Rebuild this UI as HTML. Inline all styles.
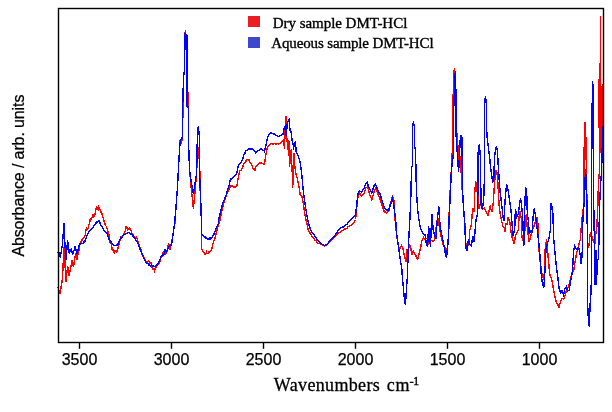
<!DOCTYPE html>
<html><head><meta charset="utf-8"><style>
html,body{margin:0;padding:0;background:#fff;}
body{width:612px;height:412px;overflow:hidden;}
svg{display:block;}
</style></head><body>
<svg width="612" height="412" viewBox="0 0 612 412">
<rect width="612" height="412" fill="#fff"/>
<g fill="none" stroke-linejoin="miter" stroke-linecap="butt" shape-rendering="crispEdges">
<polyline stroke="#ff0000" stroke-width="1.4" points="58,287 59,293 59.5,291.67 60,294 61,288 62.5,277.8 64,247 64.7,257 65.9,282 67.6,266 69,276 70.5,269 72,260 73.5,267 75.6,253 76.3,257.74 77,259 79.3,248.7 80,243.7 80.74,243.84 81.48,240.12 82.22,240.14 82.96,238.73 83.7,237.8 84.42,236.8 85.14,235.72 85.86,230.49 86.58,228.4 87.3,229 88.03,228.76 88.77,224.83 89.5,224.56 90.23,218.84 90.97,219.14 91.7,217.5 92.42,217.59 93.14,214.1 93.86,216.67 94.58,215.43 95.3,212.4 96.03,208.78 96.75,207.48 97.47,208.78 98.2,207.3 98.8,210.4 99.4,208.51 100,210 100.65,210.6 101.3,213.4 101.95,213.51 102.6,217.5 103.32,218.25 104.05,221.22 104.78,223.48 105.5,225.5 106.2,226.2 106.9,228.09 107.6,229.93 108.3,232.92 109,235 110,242.8 110.7,243.53 111.4,244 112.1,249.34 112.8,249.5 113.33,250.92 113.87,252.47 114.4,253 115.1,250.49 115.8,250.8 116.53,252.08 117.27,250.55 118,248 120.2,239 120.93,236.29 121.67,236.25 122.4,236 123.13,235.6 123.87,234.15 124.6,231.8 125.3,231.21 126,226.7 126.73,227.12 127.47,229.72 128.2,229 128.93,229.77 129.67,228.12 130.4,229 131.13,230.83 131.87,233.59 132.6,233.3 133.3,236.32 134,236.26 134.7,237.7 135.45,238.83 136.2,237.06 136.95,238.72 137.7,240.6 138.4,244.34 139.1,245.01 139.8,247.8 140.55,248.13 141.3,251.62 142.05,254.11 142.8,255 143.53,257.46 144.25,257.79 144.97,259.75 145.7,261.7 146.42,261.74 147.14,262.95 147.86,261.79 148.58,261.22 149.3,261.7 150.03,263.1 150.75,262.48 151.47,264 152.2,267.5 152.95,269.17 153.7,269 154.4,270.84 155.1,268.75 155.8,268 156.55,266.5 157.3,264.47 158.05,264.94 158.8,263.9 159.53,263.64 160.27,260.25 161,256.6 161.72,255.68 162.45,256.02 163.18,252.09 163.9,252.2 164.6,251.53 165.3,252.77 166,250 166.5,254 168.6,243 170,249.8 172.3,239 173.7,230 174.9,223 175.9,208.5 177.4,188.8 178.8,162 180,140 180.75,141.69 181.5,143 182.5,136.7 183.5,78 184.4,70 184.4,37.5 185.4,30.2 186.2,45 186.8,34.6 187.1,70 188.3,107 188.3,133.8 189,156 189.7,171 190.9,185 193.4,208.5 195.6,185 196.3,175 197.4,160 198.4,147 199.3,160 200,175 200.4,204 201.4,217 201.4,249 202.13,250.13 202.87,250.89 203.6,252.7 204.33,253.19 205.07,254.58 205.8,253.8 206.53,252.11 207.25,253.61 207.97,253.25 208.7,252 209.42,252.42 210.15,251.5 210.88,251.12 211.6,249.8 213,243.3 213.73,241.41 214.47,239.59 215.2,237.5 217.4,228.7 217.97,226.62 218.53,223.79 219.1,223 219.7,221.83 220.3,218.8 222.3,209 222.93,206.64 223.57,203.18 224.2,201.4 224.82,199.71 225.45,197.96 226.07,195.94 226.7,194.6 227.3,192.74 227.9,191.75 228.5,190.48 229.1,188.7 229.8,187.53 230.5,185.8 231.25,185.95 232,186.3 232.67,185.62 233.33,186.62 234,187.8 234.63,186.66 235.27,187.34 235.9,186.8 236.6,186.25 237.3,183.9 237.5,181 239.7,170.8 240.4,170.81 241.1,170.08 241.8,168.6 242.53,167.69 243.27,164.59 244,163.5 244.73,163.39 245.47,162 246.2,160.6 246.93,159.56 247.67,159.39 248.4,160.6 249.13,160.12 249.87,162.71 250.6,162.8 251.33,163.84 252.07,165.16 252.8,167.8 253.53,168.85 254.27,168.88 255,170 255.7,167.49 256.4,166.28 257.1,165.7 257.83,165.04 258.55,163.42 259.27,162.96 260,162.8 260.73,163.56 261.47,163.15 262.2,163.5 262.93,163.29 263.67,163.9 264.4,164.2 265.9,154.7 267.3,147.5 268.03,146.15 268.77,145.48 269.5,144.6 270.23,144.34 270.95,143.95 271.67,143.69 272.4,143.8 273.12,144.12 273.85,143.81 274.57,143.57 275.3,143.8 275.96,143.98 276.62,144.25 277.28,143.72 277.94,143.81 278.6,144.3 279.33,143.47 280.05,143.38 280.77,142.38 281.5,142.1 282.23,141.56 282.97,140.84 283.7,140 284.5,148.7 285.5,117.4 285.9,116 286.4,125.4 286.6,135.6 288.1,150 288.8,140 289.5,166.5 290.3,160.3 291.3,148.7 291.4,171.6 292.5,164.7 292.7,188.4 293.9,153 294.6,164.4 296,174.6 296.75,176.84 297.5,179 298.9,186.2 300.1,194.2 300.67,194.48 301.23,195.58 301.8,195.7 303.3,203.7 304.5,212.4 305.9,219.7 306.6,222.5 308,229 308.73,230.7 309.47,231.95 310.2,233.4 310.93,234.28 311.65,235.72 312.38,236.62 313.1,237.8 313.82,238.72 314.54,239.38 315.26,240.48 315.98,240.89 316.7,242.1 317.44,242.38 318.18,243.35 318.92,243.72 319.66,243.71 320.4,244.3 321.12,244.87 321.83,244.71 322.55,245.5 323.27,245.63 323.98,245.65 324.7,246 325.45,245.38 326.2,244.76 326.95,245.03 327.7,244.3 328.42,243.08 329.13,242.86 329.85,242.12 330.57,240.96 331.28,239.79 332,239.2 332.74,238.77 333.48,238.14 334.22,237.2 334.96,236.33 335.7,235.6 336.42,234.92 337.14,234.32 337.86,233.62 338.58,233.42 339.3,232.7 340.02,232.1 340.75,231.36 341.48,230.73 342.2,230.5 342.93,230.27 343.67,229.6 344.4,229.4 345.13,228.89 345.87,228.96 346.6,228.3 347.32,228.06 348.04,226.79 348.76,226.38 349.48,225.92 350.2,225.5 350.88,225.49 351.55,224.93 352.22,224.17 352.9,223.9 353.55,222.57 354.2,221.84 354.85,220.87 355.5,219.5 356.6,209.3 358,196.2 358.75,195.1 359.5,193.3 360.2,194.14 360.9,195.54 361.6,196.2 362.33,195.62 363.07,194.72 363.8,194 364.53,192.22 365.27,189.45 366,187.5 366.75,187.28 367.5,186.7 368.23,189.03 368.97,191.77 369.7,194.7 370.4,196.73 371.1,197.87 371.8,199.8 372.53,197.34 373.27,194.55 374,191.8 374.75,190.27 375.5,188.2 376.23,189.79 376.97,191.47 377.7,193.3 378.4,194.83 379.1,196.99 379.8,198.4 380.53,200.65 381.27,203.1 382,204.9 382.73,207.41 383.47,209.01 384.2,211.5 384.93,212.01 385.67,212.12 386.4,212.9 387.13,212.06 387.87,211.63 388.6,211.5 390.8,202 391.37,200.46 391.93,198.56 392.5,196.5 393.1,198.06 393.7,199.1 394.4,205 395.4,223.9 396.6,234.6 398,244.7 398.75,246.77 399.5,249.1 400.2,247.99 400.9,246.93 401.6,245.5 402.35,247.2 403.1,249.1 404.6,256.4 405.3,259.01 406,261.5 407.2,249.1 408.2,261.5 409,244.7 409.7,244.88 410.4,245.5 411.8,255 412.55,252.82 413.3,251.3 414.03,252.35 414.77,254.08 415.5,255 416.23,256.48 416.97,258.21 417.7,259.3 418.4,256.37 419.1,253.5 419.85,250.42 420.6,247.7 422,240.4 422.75,239.18 423.5,237.5 424.25,238.51 425,239 425.7,238.34 426.4,238.6 427.1,238.2 427.85,240.42 428.6,243.3 429.33,242.03 430.07,241.67 430.8,240.4 431.53,240.5 432.27,241.13 433,241.8 433.7,240.99 434.4,239.34 435.1,238.2 436.6,222.9 437.3,220.14 438,218 440.2,231.6 441.7,238.9 442.33,241.07 442.97,243.56 443.6,246.2 444.33,247.33 445.07,247.75 445.8,249 446.6,253.5 448,241.8 449,225.8 449.4,200 450.2,190.4 451.4,169 452.4,150 452.4,125 453.4,87 454.3,68 455.3,100 455.8,120 458.2,150 458.2,166 460.4,156 461.8,184.6 463,200.6 464,213.7 465,225.3 465.5,241.8 466.13,243.86 466.77,245.17 467.4,247 467.97,245.18 468.53,242.93 469.1,240.4 469.8,230.2 470.55,227.44 471.3,225 472.8,207.8 473.5,209.8 474.2,212.2 474.9,189 476.1,181.6 477.1,191.8 477.6,190.38 478.1,189 479,209.3 479.75,206.08 480.5,203.5 481.07,205.55 481.63,207 482.2,209.3 482.93,208.41 483.67,208.69 484.4,207.8 485.13,209.34 485.87,211.28 486.6,212.9 487.3,213.96 488,215.1 490.2,206.4 490.95,209.15 491.7,212.2 493.1,205 494.6,181.6 495.7,172.2 496.4,170 497.5,176.5 498.2,189 499.1,204.9 500.1,213.7 501.6,221 502.3,223.55 503,226.8 503.75,227.83 504.5,228.2 505.2,231.6 505.9,223.9 506.65,224.53 507.4,224.4 508.1,218 508.85,219.48 509.6,220.2 511,231.6 512.5,239 513.07,240.36 513.63,242.11 514.2,244 515.4,236 516.1,234.64 516.8,233.1 517.55,232.03 518.3,230.2 519,218 520,210.8 521.2,218 521.9,237.5 522.65,239.68 523.4,241.8 524.8,231.6 526.3,213.7 527,225.3 527.8,231.6 529.2,241.8 529.95,239.05 530.7,236 531.4,233.23 532.1,230.2 532.83,228.37 533.57,226.97 534.3,225.3 535.03,222.71 535.77,220.23 536.5,218 537,217.67 537.5,218 538,225.3 539.4,256.4 540.9,266.6 542.4,276.6 543.1,277.92 543.8,279.6 544.6,268 545.2,249 546.7,239 547.4,249 548.6,262.2 549.7,273.7 550.4,276.05 551.1,277.59 551.8,279.6 553.3,288.3 554.7,295.6 555.45,298.62 556.2,301.4 556.95,302.96 557.7,304.3 558.4,306.1 559.1,307.2 559.85,304.21 560.6,301.4 561.3,299.8 562,298.5 562.6,298.6 563.2,298.82 563.8,299.2 564.43,297.31 565.07,295.18 565.7,292.7 566.33,291.08 566.97,289.63 567.6,288.3 568.17,286.87 568.73,285.43 569.3,283.9 570.05,281.08 570.8,278.1 571.2,276.2 571.6,274.7 572.2,272.3 572.95,271.17 573.7,270.8 574.6,264.5 576.7,252.8 578.9,244.1 579.55,241.85 580.2,240 581.2,228 582.4,215 583.8,204 583.8,180 584.3,140 584.7,121.7 585.3,125 585.8,136 586.7,188.8 587.5,224.7 587.7,248 588.3,246.66 588.9,246 590.4,232 591.1,234.24 591.8,236.4 592.55,238.26 593.3,240.8 594,242.56 594.7,245 595.5,236.4 596.9,226.2 597.4,215 598.1,200 598.3,185 599.3,173 599.3,156 599.1,94 599.1,80 600.2,72 600.3,15.8 600.4,86 599.6,152 600.4,90 601.1,153 601.8,86 602.5,153 603,90 603.2,84"/>
<polyline stroke="#0000ff" stroke-width="1.4" points="58,252 58.5,253.59 59,253 59.7,256.07 60.4,257 62.5,244 64,223 64.7,240 66,260 67.6,240 69.4,254 70.03,251.27 70.67,249.67 71.3,249 72,252.31 72.7,254 73.47,252.23 74.23,249.74 75,247 75.67,248.54 76.33,251.25 77,253 77.77,250.59 78.53,247.86 79.3,245 80.03,243.95 80.77,243.89 81.5,243.33 82.23,243.36 82.97,243.29 83.7,242 84.35,242.22 85,241 85.75,239.2 86.5,237.16 87.25,235 88,233.5 88.73,231.79 89.47,230.81 90.2,230.54 90.93,229.34 91.67,228.47 92.4,227.7 93.12,227.4 93.85,225.89 94.58,225.02 95.3,224 96.04,222.98 96.78,222.04 97.52,221.92 98.26,221.02 99,221 99.72,222.36 100.44,224.48 101.16,225.3 101.88,225.85 102.6,227.7 103.33,229.3 104.07,230.11 104.8,230.98 105.53,232.22 106.27,232.95 107,233.5 107.75,235.74 108.5,236.82 109.25,239.59 110,240.6 110.73,242.31 111.47,241.99 112.2,243.5 112.93,244.64 113.67,245.31 114.4,245.7 115.12,245.46 115.85,245.4 116.58,245.16 117.3,245 118.03,244.18 118.75,242 119.47,241.03 120.2,239 120.92,237.89 121.65,237.86 122.38,237.01 123.1,235.5 123.82,234.89 124.55,234.51 125.28,234.52 126,233.3 126.73,233.42 127.47,232.81 128.2,232.6 128.92,232.5 129.65,233.02 130.38,233.97 131.1,234 131.82,234.22 132.55,236.15 133.28,235.88 134,237 134.75,238.73 135.5,238.85 136.25,240.96 137,241.3 137.7,243.33 138.4,244.71 139.1,246.4 139.83,248.36 140.57,250.51 141.3,252.2 142.03,253.99 142.75,255.2 143.47,256.68 144.2,258.8 144.92,260.09 145.65,262.04 146.38,262.82 147.1,263.9 147.82,263.5 148.55,264.96 149.28,265.09 150,265 150.75,265.9 151.5,265.01 152.25,266.14 153,266 153.7,265.56 154.4,266.78 155.1,266.8 155.82,265.71 156.55,264.91 157.28,265.23 158,263.9 158.75,261.45 159.5,260.29 160.25,258.99 161,256.6 161.72,255.64 162.45,255.04 163.18,255.56 163.9,254.4 164.45,251.98 165,249.8 165.75,251.25 166.5,252 167.25,249.75 168,249 168.7,247.28 169.4,246 170.1,245.04 170.8,245.41 171.5,244.7 173,234.6 174.5,224.4 175.9,208.5 177.4,188.8 178.8,162 180,143 180.75,139.83 181.5,138 182,138.08 182.5,136.7 182.5,113 183.5,78 184.4,70 184.4,37.5 184.9,34.49 185.4,33 186,50 186.5,36 187.1,34.6 187.1,70 187.1,107 187.7,107.37 188.3,107 188.3,133.8 189,156 189.7,171 190.9,180 193.4,194 196.3,175 197,159 197.4,132.5 198.4,125.9 199.3,136 199.5,171 200.7,199.7 201.4,221.6 201.4,234.6 202.13,234.3 202.87,235.14 203.6,236 204.33,237.23 205.07,236.92 205.8,238.2 206.53,237.89 207.25,238.91 207.97,238.62 208.7,239 209.42,238.17 210.15,239.58 210.88,238.14 211.6,238.6 212.33,236.52 213.07,235.68 213.8,234.6 214.53,232.82 215.27,231.05 216,228.7 216.7,226.65 217.4,225.57 218.1,224.4 218.9,218.8 220.8,211 221.47,207.68 222.13,205.78 222.8,203.3 223.6,201.79 224.4,199.82 225.2,197.5 225.83,196.21 226.47,194.04 227.1,191.7 227.55,190.53 228,188.2 228.55,187.08 229.1,185.3 229.65,182.71 230.2,180.2 230.93,179.03 231.67,178.99 232.4,178 233.13,177.24 233.87,176.43 234.6,176.6 235.3,175.32 236,174.8 236.7,173 238.2,166.4 238.93,164.74 239.67,164.4 240.4,163.2 241.13,161.9 241.87,160.96 242.6,159.8 243.3,156.68 244,154.7 244.75,153.64 245.5,151.1 246.22,150.36 246.95,150.57 247.68,149.92 248.4,149.7 249.12,148.73 249.85,149.39 250.58,148.52 251.3,148.9 252.03,148.69 252.77,149.15 253.5,150.4 254.23,150.59 254.97,151.22 255.7,152.6 256.4,152.08 257.1,151.15 257.8,150.4 258.55,150.72 259.3,150.19 260.05,149.84 260.8,148.6 261.53,148.77 262.27,149.71 263,150.4 263.7,150.55 264.4,151.5 265.15,148.81 265.9,146 267.3,138.7 268.05,136.63 268.8,134.4 269.53,134.09 270.27,133.53 271,132.9 271.7,132.98 272.4,133.32 273.1,133.6 273.73,134.02 274.37,134.08 275,134.8 275.73,134.98 276.45,135.69 277.17,135.98 277.9,136.7 278.62,136.57 279.35,135.98 280.07,135.62 280.8,135.6 281.53,134.86 282.27,134.36 283,134 284.5,126.8 285.2,126.27 285.9,126.1 286.2,136.3 287.4,122.5 287.97,121.55 288.53,120.54 289.1,119.6 290,130.5 290.5,130.73 291,131.2 292.2,140.7 293.6,147.2 294.2,145.36 294.8,143.15 295.4,141.4 296.1,151.6 296.83,153.33 297.57,154.83 298.3,156 298.87,158.08 299.43,159.82 300,161.8 301.1,168.7 302.1,177.5 303,187.7 304,196.4 305,203.7 306.2,211 306.6,213.7 308,221 308.75,223.91 309.5,226.8 310.2,228.59 310.9,229.98 311.6,232 312.35,232.85 313.1,233.82 313.85,234.5 314.6,235.6 315.33,236.44 316.05,237.99 316.77,238.81 317.5,240 318.22,240.73 318.94,241.71 319.66,242.23 320.38,242.75 321.1,243.6 321.82,244.35 322.54,244.4 323.26,244.61 323.98,245.48 324.7,245.8 325.44,244.94 326.18,244.48 326.92,244.22 327.66,243.51 328.4,242.8 329.12,241.59 329.85,240.97 330.57,240.04 331.3,239.2 332.04,238.47 332.78,237.57 333.52,237.1 334.26,236.05 335,235.6 335.7,234.19 336.4,232.97 337.1,232.05 337.8,230.5 338.55,229.5 339.3,229.21 340.05,228.13 340.8,227.6 341.52,227.45 342.25,227.13 342.98,226.98 343.7,226.8 344.43,226.44 345.15,225.68 345.88,224.98 346.6,224.7 347.32,223.58 348.04,222.67 348.76,222.28 349.48,221.27 350.2,220.3 350.88,220.02 351.55,219.27 352.22,218.27 352.9,218 353.55,217.38 354.2,216.73 354.85,215.97 355.5,215.1 356.6,206.4 358,193.3 358.75,192.2 359.5,191.1 360.2,191.24 360.9,191.54 361.6,191.8 362.33,191.02 363.07,189.72 363.8,188.9 364.55,186.77 365.3,184.6 365.93,183.85 366.57,183.42 367.2,182.4 367.77,184.29 368.33,186.08 368.9,187.5 369.62,189.17 370.35,190.27 371.07,191.68 371.8,193.3 372.53,190.86 373.27,188.28 374,186 374.75,184.85 375.5,183.8 376.23,185.88 376.97,188 377.7,189.7 378.4,190.95 379.1,192.3 379.8,193.3 380.53,195.47 381.27,198.07 382,200.6 382.73,203.09 383.47,204.71 384.2,207.1 384.93,208.01 385.67,208.76 386.4,210 387.13,209.74 387.87,210.25 388.6,210 389.33,208.15 390.07,205.76 390.8,203.5 391.37,201.56 391.93,199.97 392.5,198.4 393.7,204.2 394.8,213.7 395.9,222.4 396.6,233.1 398,243.3 399,250.6 400.2,259.3 401,264 401.7,267.3 402.5,278.9 403.6,290.5 404.6,300.7 405.4,305 406.5,289 407.5,274.5 408.2,249 409,234.6 410.1,215 411.1,190 411.4,167 411.8,166.33 412.2,166 412.2,126 412.75,124.36 413.3,122.5 413.8,124.37 414.3,126 414.3,148 414.95,147.96 415.6,148 415.9,170.8 416.5,192.7 417.7,210 418.8,218.9 419.8,224.7 420.2,226.72 420.6,228.7 421.33,229.92 422.07,231.66 422.8,233.1 423.53,233.89 424.27,234.26 425,234.6 426.4,244.7 427,245.59 427.6,247 428.6,225.8 429.6,237.5 430.5,247 431.5,220 432.2,214.5 433,228.7 433.7,231.66 434.4,234.6 435.15,236.89 435.9,238.9 437.3,220 438.8,206.5 440.2,227.3 441.7,234.6 443.1,241.8 444.4,247.7 445.8,256.4 446.2,257.09 446.6,258.1 447.3,249 448,243.3 448.7,227.3 449.5,210 450.5,190 451.4,170 452,165 453.4,154 453.4,115 454.5,90 455.3,71 456,95 456,134 457.5,156 458.6,172 460.4,136 461.1,136.25 461.8,136 462.5,184.6 463,200.6 464,213.7 464.7,222.9 465.5,241.8 466.5,251.3 466.95,250.13 467.4,249 468.4,239 469.1,241.98 469.8,244.7 470.55,245.39 471.3,246.2 472.8,236 473.5,239.22 474.2,241.8 475.7,222.9 476.4,218 477,216.03 477.6,213.7 478.1,170 478.1,152.8 479.3,144 480.5,158.7 481,203.5 482.2,209.3 483.7,200 484.4,178 484.4,108 485.4,95.7 486.3,103 486.3,123.7 487.3,139 488.4,147.5 489.5,156.2 490.5,166.4 491.6,175 492.8,182.4 493.3,180.25 493.8,178 494.5,157.6 495.7,148.9 496.4,146 497.5,151.8 498.2,164.9 499.1,178.7 500.1,191.8 501.6,203.5 503,216.6 503.5,218.57 504,221 504.9,203.5 505.9,190.4 506.6,184.6 507.35,187.46 508.1,190.4 509.6,200.6 511,210.8 512.5,229 513.2,236 514.7,228.7 515.4,209.3 516.8,216.6 517.55,214.85 518.3,213.7 519.7,203.5 520.5,198.4 521.6,204.9 522.7,218 523.8,246.2 524.8,206.4 525.6,187.5 526.15,189.71 526.7,191.8 527.3,213.7 528.5,222.4 529.2,233.1 529.95,232.24 530.7,230.9 531.4,231.05 532.1,231.6 533.1,216.6 534.3,208.6 535.8,218 537.2,228.7 538.7,241.8 540.1,257.8 541.4,276.6 542.8,285.4 543.3,286.11 543.8,286.8 544.6,276.6 545.3,265 546,249 546.7,246.14 547.4,243.3 548.15,241.04 548.9,238.9 550.3,230.2 551,203.5 551.57,205.6 552.13,207.71 552.7,209.4 553.7,238.5 554.9,251.6 556.2,265 557.7,276.6 559.1,288.3 559.85,290.63 560.6,292.7 561.3,291.58 562,290.5 562.75,292.95 563.5,294.8 564.2,291.79 564.9,289 565.65,288.06 566.4,286.8 567,289.1 567.6,291.2 568.17,290.87 568.73,290.43 569.3,289.7 570.8,279.6 571.5,276.47 572.2,273.7 573.1,260 573.8,250 574.2,247.88 574.6,245.6 575.3,246.99 576,248.5 576.75,249.36 577.5,250 578.1,248.81 578.7,247 579.5,252 580.2,255.3 581.2,264 581.9,257 582.4,249.5 582.4,229 583.5,210 584.5,200 585.3,175 585.7,169.4 586.2,190 586.7,192 587.3,230 587.3,298.5 588.7,325.7 589.4,326 590,306 591.2,290 591.5,200 591.8,150 592.4,82 592.8,82 593.3,160 593.7,204 594.4,240 594.7,260 595.1,285 595.7,265 596.2,250 596.4,285 597,271 597.4,260 598,259.44 598.6,258.7 599.1,226 599.8,200 600.9,179 601.5,173 602.2,150 602.4,127 603,127"/>
</g>
<rect x="58.5" y="8.5" width="545" height="334" fill="none" stroke="#000" stroke-width="1.4"/>
<g stroke="#000" stroke-width="1.4"><line x1="79.5" y1="342" x2="79.5" y2="348.8"/><line x1="171.5" y1="342" x2="171.5" y2="348.8"/><line x1="263.5" y1="342" x2="263.5" y2="348.8"/><line x1="355.5" y1="342" x2="355.5" y2="348.8"/><line x1="447.5" y1="342" x2="447.5" y2="348.8"/><line x1="539.5" y1="342" x2="539.5" y2="348.8"/></g>
<g font-family="'Liberation Sans', Arial, sans-serif" font-size="16" text-anchor="middle" fill="#000" stroke="#000" stroke-width="0.25"><text x="79.5" y="364.8">3500</text><text x="171.5" y="364.8">3000</text><text x="263.5" y="364.8">2500</text><text x="355.5" y="364.8">2000</text><text x="447.5" y="364.8">1500</text><text x="539.5" y="364.8">1000</text></g>
<g font-family="'Liberation Serif', 'Times New Roman', serif" font-size="18" fill="#000" stroke="#000" stroke-width="0.3"><text x="273.8" y="390.7" textLength="106" lengthAdjust="spacing">Wavenumbers</text><text x="386.8" y="390.7" textLength="22.6" lengthAdjust="spacing">cm</text><text x="409.6" y="384.8" font-size="12.6" letter-spacing="-0.7">-1</text></g>
<text transform="translate(24,256.6) rotate(-90)" textLength="162" lengthAdjust="spacing" font-family="'Liberation Sans', Arial, sans-serif" font-size="16" fill="#000" stroke="#000" stroke-width="0.25">Absorbance / arb. units</text>
<rect x="248" y="16" width="12" height="11" fill="#ec1c24"/>
<rect x="248" y="37" width="12" height="11" fill="#3f48cc"/>
<g font-family="'Liberation Serif', 'Times New Roman', serif" font-size="15" fill="#000" stroke="#000" stroke-width="0.35">
<text x="272.8" y="28" textLength="134.5" lengthAdjust="spacing">Dry sample DMT-HCl</text>
<text x="271.3" y="47.6" textLength="162.3" lengthAdjust="spacing">Aqueous sample DMT-HCl</text>
</g>
</svg>
</body></html>
